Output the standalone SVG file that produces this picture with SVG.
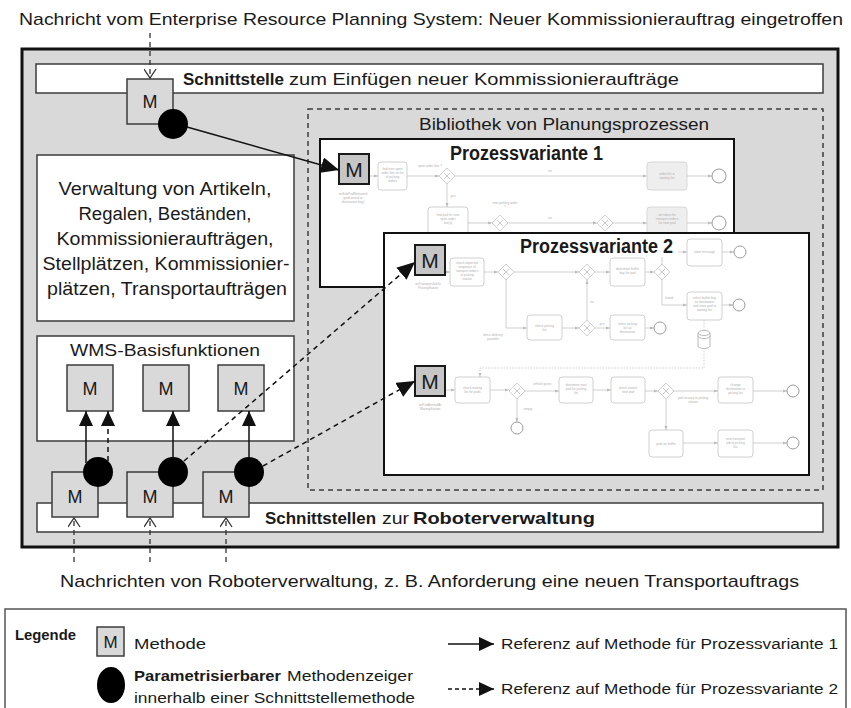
<svg xmlns="http://www.w3.org/2000/svg" width="851" height="708" viewBox="0 0 851 708">
  <style>
    .t { font-family: "Liberation Sans", Arial, sans-serif; fill: #1a1a1a; }
    .b { font-weight: bold; }
    .c { text-anchor: middle; }
    .box { fill: #ffffff; stroke: #3c3c3c; stroke-width: 1.5; }
    .m { fill: #d9d9d9; stroke: #3c3c3c; stroke-width: 1.5; }
    .pm { fill: #c6c6c6; stroke: #1a1a1a; stroke-width: 2; }
    .mt { font-family: "Liberation Sans", Arial, sans-serif; fill: #1a1a1a; font-size: 18px; text-anchor: middle; }
    .pmt { font-family: "Liberation Sans", Arial, sans-serif; fill: #1a1a1a; font-size: 21px; text-anchor: middle; }
    .ptr { fill: #000000; }
    .con { fill: none; stroke: #111111; stroke-width: 1.5; }
    .dash { stroke-dasharray: 5 4; }
    .msg { fill: none; stroke: #333333; stroke-width: 1.3; stroke-dasharray: 5 4; }
    .pv { fill: #ffffff; stroke: #111111; stroke-width: 2; }
    .fl { fill: none; stroke: #c4c4c4; stroke-width: 0.8; }
    .tk { fill: #ffffff; stroke: #c4c4c4; stroke-width: 0.8; }
    .tkg { fill: #eeeeee; stroke: #d0d0d0; stroke-width: 0.8; }
    .ft { font-family: "Liberation Sans", Arial, sans-serif; font-size: 3.2px; fill: #b0b0b0; text-anchor: middle; }
  </style>
  <defs>
    <marker id="headSolid" markerUnits="userSpaceOnUse" markerWidth="15" markerHeight="14" refX="15" refY="7" orient="auto">
      <path d="M0,0 L15,7 L0,14 z" fill="#111111"/>
    </marker>
    <marker id="headBig" markerUnits="userSpaceOnUse" markerWidth="18" markerHeight="16" refX="18" refY="8" orient="auto">
      <path d="M0,0 L18,8 L0,16 z" fill="#111111"/>
    </marker>
    <marker id="headOpen" markerUnits="userSpaceOnUse" markerWidth="12" markerHeight="13" refX="10" refY="6.5" orient="auto">
      <path d="M1,0.5 L10,6.5 L1,12.5" fill="none" stroke="#333333" stroke-width="1.3"/>
    </marker>
    <marker id="flow" markerUnits="userSpaceOnUse" markerWidth="4" markerHeight="4" refX="4" refY="2" orient="auto">
      <path d="M0,0.5 L4,2 L0,3.5 z" fill="#bdbdbd"/>
    </marker>
    <symbol id="gw" overflow="visible">
      <path d="M0,-8 L8,0 L0,8 L-8,0 z" fill="#ffffff" stroke="#c4c4c4" stroke-width="0.8"/>
      <path d="M-3,-3 L3,3 M3,-3 L-3,3" stroke="#bdbdbd" stroke-width="0.8"/>
    </symbol>
  </defs>

  <!-- incoming ERP message -->
  <text class="t" x="19" y="25" font-size="17" textLength="824" lengthAdjust="spacingAndGlyphs">Nachricht vom Enterprise Resource Planning System: Neuer Kommissionierauftrag eingetroffen</text>

  <!-- warehouse management system container -->
  <g id="wms-container">
    <rect x="22" y="49" width="816" height="498" fill="#d9d9d9" stroke="#111111" stroke-width="3"/>
  </g>

  <g id="order-interface">
    <rect class="box" x="36" y="64" width="787" height="29"/>
    <text class="t b" x="183" y="85" font-size="17" textLength="101" lengthAdjust="spacingAndGlyphs">Schnittstelle</text>
    <text class="t" x="289" y="85" font-size="17" textLength="390" lengthAdjust="spacingAndGlyphs">zum Einfügen neuer Kommissionieraufträge</text>
  </g>

  <g id="data-management">
    <rect class="box" x="37" y="155" width="257" height="166"/>
    <text class="t c" x="165" y="195" font-size="18" textLength="213" lengthAdjust="spacingAndGlyphs">Verwaltung von Artikeln,</text>
    <text class="t c" x="165" y="220" font-size="18" textLength="173" lengthAdjust="spacingAndGlyphs">Regalen, Beständen,</text>
    <text class="t c" x="165" y="245" font-size="18" textLength="217" lengthAdjust="spacingAndGlyphs">Kommissionieraufträgen,</text>
    <text class="t c" x="166" y="270" font-size="18" textLength="247" lengthAdjust="spacingAndGlyphs">Stellplätzen, Kommissionier-</text>
    <text class="t c" x="167" y="295" font-size="18" textLength="240" lengthAdjust="spacingAndGlyphs">plätzen, Transportaufträgen</text>
  </g>

  <g id="wms-base-functions">
    <rect class="box" x="37" y="336" width="257" height="105"/>
    <text class="t c" x="165" y="356" font-size="17" textLength="190" lengthAdjust="spacingAndGlyphs">WMS-Basisfunktionen</text>
    <g id="base-method-1"><rect class="m" x="67" y="365" width="46" height="46"/><text class="mt" x="90" y="395">M</text></g>
    <g id="base-method-2"><rect class="m" x="143" y="365" width="46" height="46"/><text class="mt" x="166" y="395">M</text></g>
    <g id="base-method-3"><rect class="m" x="218" y="365" width="46" height="46"/><text class="mt" x="241" y="395">M</text></g>
  </g>

  <g id="robot-interface">
    <rect class="box" x="37" y="503" width="786" height="29"/>
    <text class="t b" x="265" y="524" font-size="17" textLength="111" lengthAdjust="spacingAndGlyphs">Schnittstellen</text>
    <text class="t" x="382" y="524" font-size="17" textLength="27" lengthAdjust="spacingAndGlyphs">zur</text>
    <text class="t b" x="413" y="524" font-size="17" textLength="182" lengthAdjust="spacingAndGlyphs">Roboterverwaltung</text>
  </g>

  <!-- library of planning processes -->
  <g id="process-library">
    <rect x="308" y="109" width="515" height="381" fill="none" stroke="#3c3c3c" stroke-width="1.5" stroke-dasharray="5 4"/>
    <text class="t c" x="564" y="130" font-size="17" textLength="290" lengthAdjust="spacingAndGlyphs">Bibliothek von Planungsprozessen</text>
  </g>

  <!-- process variant 1 -->
  <g id="process-variant-1">
    <rect class="pv" x="320" y="139" width="414" height="148"/>
    <text class="t b" x="450" y="160" font-size="20" textLength="153" lengthAdjust="spacingAndGlyphs">Prozessvariante 1</text>
    <g id="pv1-flow">
      <text class="ft" x="353" y="195">onSubPodReleased</text>
      <text class="ft" x="353" y="199">(pod arrival at</text>
      <text class="ft" x="353" y="203">destination bay)</text>
      <path class="fl" d="M369,176 H378" marker-end="url(#flow)"/>
      <rect class="tk" x="378" y="162" width="29" height="28" rx="3"/>
      <text class="ft" x="392.5" y="170">find next open</text>
      <text class="ft" x="392.5" y="174">order line on list</text>
      <text class="ft" x="392.5" y="178">of picking</text>
      <text class="ft" x="392.5" y="182">orders</text>
      <path class="fl" d="M407,176 H439" marker-end="url(#flow)"/>
      <use href="#gw" x="447" y="176"/>
      <text class="ft" x="430" y="167">open order line ?</text>
      <path class="fl" d="M455,176 H647" marker-end="url(#flow)"/>
      <text class="ft" x="550" y="172">no</text>
      <rect class="tkg" x="647" y="162" width="40" height="28" rx="3"/>
      <text class="ft" x="667" y="175">order list is</text>
      <text class="ft" x="667" y="179">waiting list</text>
      <path class="fl" d="M687,176 H712" marker-end="url(#flow)"/>
      <circle cx="719" cy="176" r="7" fill="#ffffff" stroke="#9a9a9a" stroke-width="1"/>
      <path class="fl" d="M447,184 V207" marker-end="url(#flow)"/>
      <text class="ft" x="453" y="197">yes</text>
      <rect class="tk" x="428" y="207" width="40" height="33" rx="3"/>
      <text class="ft" x="448" y="216">find pod for next</text>
      <text class="ft" x="448" y="220">open order</text>
      <text class="ft" x="448" y="224">line(s)</text>
      <path class="fl" d="M468,223 H492" marker-end="url(#flow)"/>
      <use href="#gw" x="500" y="223"/>
      <text class="ft" x="505" y="204">new picking order</text>
      <text class="ft" x="505" y="208">?</text>
      <path class="fl" d="M508,223 H597" marker-end="url(#flow)"/>
      <text class="ft" x="550" y="219">no</text>
      <use href="#gw" x="605" y="223"/>
      <path class="fl" d="M613,223 H647" marker-end="url(#flow)"/>
      <rect class="tkg" x="647" y="207" width="40" height="33" rx="3"/>
      <text class="ft" x="667" y="216">set token for</text>
      <text class="ft" x="667" y="220">transport orders</text>
      <text class="ft" x="667" y="224">for next pod</text>
      <path class="fl" d="M687,223 H712" marker-end="url(#flow)"/>
      <circle cx="719" cy="223" r="7" fill="#ffffff" stroke="#9a9a9a" stroke-width="1"/>
    </g>
    <g id="pv1-method"><rect class="pm" x="339" y="154" width="30" height="30"/><text class="pmt" x="354" y="177">M</text></g>
  </g>

  <!-- process variant 2 -->
  <g id="process-variant-2">
    <rect class="pv" x="384" y="233" width="425" height="242"/>
    <text class="t b" x="520" y="253" font-size="20" textLength="153" lengthAdjust="spacingAndGlyphs">Prozessvariante 2</text>
    <g id="pv2-flow-upper">
      <text class="ft" x="428" y="285">onTransportJobTo</text>
      <text class="ft" x="428" y="289">PickingStation</text>
      <path class="fl" d="M445,272 H450" marker-end="url(#flow)"/>
      <rect class="tk" x="450" y="258" width="34" height="28" rx="3"/>
      <text class="ft" x="467" y="264">check expected</text>
      <text class="ft" x="467" y="268">sequence of</text>
      <text class="ft" x="467" y="272">transport orders</text>
      <text class="ft" x="467" y="276">at picking</text>
      <text class="ft" x="467" y="280">station</text>
      <path class="fl" d="M484,272 H498" marker-end="url(#flow)"/>
      <use href="#gw" x="506" y="272"/>
      <path class="fl" d="M514,272 H579" marker-end="url(#flow)"/>
      <use href="#gw" x="587" y="272"/>
      <path class="fl" d="M595,272 H610" marker-end="url(#flow)"/>
      <rect class="tk" x="610" y="258" width="35" height="28" rx="3"/>
      <text class="ft" x="627.5" y="270">determine buffer</text>
      <text class="ft" x="627.5" y="274">bay for pod</text>
      <path class="fl" d="M645,272 H654" marker-end="url(#flow)"/>
      <use href="#gw" x="662" y="272"/>
      <path class="fl" d="M662,264 V257"/>
      <path class="fl" d="M678,252 H687" marker-end="url(#flow)"/>
      <rect class="tk" x="687" y="239" width="35" height="27" rx="3"/>
      <text class="ft" x="704.5" y="253">store message</text>
      <path class="fl" d="M722,252 H734" marker-end="url(#flow)"/>
      <circle cx="740" cy="252" r="6" fill="#ffffff" stroke="#9a9a9a" stroke-width="1"/>
      <path class="fl" d="M662,280 V305 H687" marker-end="url(#flow)"/>
      <text class="ft" x="669" y="299">found</text>
      <rect class="tk" x="687" y="292" width="35" height="28" rx="3"/>
      <text class="ft" x="704.5" y="299">select buffer bay</text>
      <text class="ft" x="704.5" y="303">as destination</text>
      <text class="ft" x="704.5" y="307">and store pod in</text>
      <text class="ft" x="704.5" y="311">waiting list</text>
      <path class="fl" d="M722,305 H733" marker-end="url(#flow)"/>
      <circle cx="739" cy="305" r="6" fill="#ffffff" stroke="#9a9a9a" stroke-width="1"/>
      <path class="fl" d="M704,320 V331" stroke-dasharray="1.5 1.5"/>
      <path d="M698,333 V346 A6,2.5 0 0 0 710,346 V333 A6,2.5 0 0 0 698,333 A6,2.5 0 0 0 710,333 M698,336 A6,2.5 0 0 0 710,336" fill="#ffffff" stroke="#a8a8a8" stroke-width="0.8"/>
      <path class="fl" d="M506,280 V328 H527" marker-end="url(#flow)"/>
      <text class="ft" x="493" y="336">direct delivery</text>
      <text class="ft" x="493" y="340">possible</text>
      <rect class="tk" x="527" y="315" width="35" height="25" rx="3"/>
      <text class="ft" x="544.5" y="327">check picking</text>
      <text class="ft" x="544.5" y="331">list</text>
      <path class="fl" d="M562,328 H579" marker-end="url(#flow)"/>
      <use href="#gw" x="587" y="328"/>
      <path class="fl" d="M587,320 V280" marker-end="url(#flow)"/>
      <text class="ft" x="592" y="303">no</text>
      <path class="fl" d="M595,328 H610" marker-end="url(#flow)"/>
      <text class="ft" x="602" y="325">yes</text>
      <rect class="tk" x="610" y="315" width="35" height="25" rx="3"/>
      <text class="ft" x="627.5" y="325">select picking</text>
      <text class="ft" x="627.5" y="329">list as</text>
      <text class="ft" x="627.5" y="333">destination</text>
      <path class="fl" d="M645,328 H654" marker-end="url(#flow)"/>
      <circle cx="660" cy="328" r="6" fill="#ffffff" stroke="#9a9a9a" stroke-width="1"/>
    </g>
    <g id="pv2-flow-lower">
      <path class="fl" d="M704,348 V368 H480 V377" stroke-dasharray="1.5 1.5" marker-end="url(#flow)"/>
      <text class="ft" x="430" y="406">onPodArrivedAt</text>
      <text class="ft" x="430" y="410">WaitingStation</text>
      <path class="fl" d="M445,390 H455" marker-end="url(#flow)"/>
      <rect class="tk" x="455" y="377" width="35" height="26" rx="3"/>
      <text class="ft" x="472.5" y="389">check waiting</text>
      <text class="ft" x="472.5" y="393">list for pods</text>
      <path class="fl" d="M490,390 H509" marker-end="url(#flow)"/>
      <use href="#gw" x="517" y="391"/>
      <path class="fl" d="M517,399 V422" marker-end="url(#flow)"/>
      <text class="ft" x="528" y="410">empty</text>
      <circle cx="517" cy="428" r="6" fill="#ffffff" stroke="#9a9a9a" stroke-width="1"/>
      <path class="fl" d="M525,391 H559" marker-end="url(#flow)"/>
      <text class="ft" x="542" y="385">vehicle given</text>
      <rect class="tk" x="559" y="377" width="34" height="26" rx="3"/>
      <text class="ft" x="576" y="386">determine next</text>
      <text class="ft" x="576" y="390">pod for picking</text>
      <text class="ft" x="576" y="394">list</text>
      <path class="fl" d="M593,390 H611" marker-end="url(#flow)"/>
      <rect class="tk" x="611" y="377" width="34" height="26" rx="3"/>
      <text class="ft" x="628" y="389">check station</text>
      <text class="ft" x="628" y="393">next pod</text>
      <path class="fl" d="M645,391 H658" marker-end="url(#flow)"/>
      <use href="#gw" x="666" y="391"/>
      <path class="fl" d="M674,391 H718" marker-end="url(#flow)"/>
      <text class="ft" x="693" y="399">pod on way to picking</text>
      <text class="ft" x="693" y="403">station</text>
      <rect class="tk" x="718" y="377" width="35" height="26" rx="3"/>
      <text class="ft" x="735.5" y="386">change</text>
      <text class="ft" x="735.5" y="390">destination to</text>
      <text class="ft" x="735.5" y="394">picking list</text>
      <path class="fl" d="M753,391 H787" marker-end="url(#flow)"/>
      <circle cx="793" cy="391" r="6" fill="#ffffff" stroke="#9a9a9a" stroke-width="1"/>
      <path class="fl" d="M666,399 V430" marker-end="url(#flow)"/>
      <rect class="tk" x="649" y="430" width="34" height="27" rx="3"/>
      <text class="ft" x="666" y="445">park on buffer</text>
      <path class="fl" d="M683,443 H718" marker-end="url(#flow)"/>
      <rect class="tk" x="718" y="430" width="35" height="27" rx="3"/>
      <text class="ft" x="735.5" y="440">new transport</text>
      <text class="ft" x="735.5" y="444">job to picking</text>
      <text class="ft" x="735.5" y="448">list</text>
      <path class="fl" d="M753,443 H787" marker-end="url(#flow)"/>
      <circle cx="793" cy="443" r="6" fill="#ffffff" stroke="#9a9a9a" stroke-width="1"/>
    </g>
    <g id="pv2-method-1"><rect class="pm" x="415" y="245" width="30" height="30"/><text class="pmt" x="430" y="268">M</text></g>
    <g id="pv2-method-2"><rect class="pm" x="415" y="366" width="30" height="30"/><text class="pmt" x="430" y="389">M</text></g>
  </g>

  <!-- interface methods with parametrizable method pointers -->
  <g id="order-method">
    <rect class="m" x="127" y="79" width="46" height="45"/>
    <text class="mt" x="150" y="108">M</text>
  </g>
  <g id="robot-method-1">
    <rect class="m" x="52" y="472" width="46" height="45"/>
    <text class="mt" x="75" y="503">M</text>
  </g>
  <g id="robot-method-2">
    <rect class="m" x="127" y="472" width="46" height="45"/>
    <text class="mt" x="150" y="503">M</text>
  </g>
  <g id="robot-method-3">
    <rect class="m" x="203" y="472" width="46" height="45"/>
    <text class="mt" x="226" y="503">M</text>
  </g>

  <!-- connectors -->
  <g id="connectors">
    <path class="msg" d="M150,33 V78" marker-end="url(#headOpen)"/>
    <path class="msg" d="M74,562 V518" marker-end="url(#headOpen)"/>
    <path class="msg" d="M150,562 V518" marker-end="url(#headOpen)"/>
    <path class="msg" d="M226,562 V518" marker-end="url(#headOpen)"/>
    <path class="con" d="M187,127 L339,170" marker-end="url(#headBig)"/>
    <path class="con dash" d="M184,461 L415,262" marker-end="url(#headBig)"/>
    <path class="con dash" d="M263,466 L415,381" marker-end="url(#headBig)"/>
    <path class="con" d="M86,463 V411" marker-end="url(#headSolid)"/>
    <path class="con dash" d="M108,461 V411" marker-end="url(#headSolid)"/>
    <path class="con" d="M173,457 V411" marker-end="url(#headSolid)"/>
    <path class="con" d="M249,457 V411" marker-end="url(#headSolid)"/>
  </g>

  <!-- method pointers -->
  <g id="method-pointers">
    <circle class="ptr" cx="173" cy="124" r="15"/>
    <circle class="ptr" cx="98" cy="472" r="15"/>
    <circle class="ptr" cx="173" cy="472" r="15"/>
    <circle class="ptr" cx="249" cy="472" r="15"/>
  </g>

  <!-- incoming robot management messages -->
  <text class="t" x="60" y="587" font-size="17" textLength="739" lengthAdjust="spacingAndGlyphs">Nachrichten von Roboterverwaltung, z. B. Anforderung eine neuen Transportauftrags</text>

  <!-- legend -->
  <g id="legend">
    <rect x="5" y="609" width="841" height="112" fill="#ffffff" stroke="#555555" stroke-width="1.5"/>
    <text class="t b" x="15" y="640" font-size="15" textLength="61" lengthAdjust="spacingAndGlyphs">Legende</text>
    <rect class="m" x="97" y="627" width="27" height="29"/>
    <text class="t c" x="110.5" y="648" font-size="17">M</text>
    <text class="t" x="134" y="649" font-size="15.5" textLength="72" lengthAdjust="spacingAndGlyphs">Methode</text>
    <ellipse class="ptr" cx="111" cy="685" rx="14" ry="18"/>
    <text class="t b" x="134" y="681" font-size="15.5" textLength="147" lengthAdjust="spacingAndGlyphs">Parametrisierbarer</text>
    <text class="t" x="287" y="681" font-size="15.5" textLength="126" lengthAdjust="spacingAndGlyphs">Methodenzeiger</text>
    <text class="t" x="134" y="703" font-size="15.5" textLength="281" lengthAdjust="spacingAndGlyphs">innerhalb einer Schnittstellemethode</text>
    <path class="con" d="M448,644 H494" marker-end="url(#headSolid)"/>
    <text class="t" x="501" y="649" font-size="15.5" textLength="337" lengthAdjust="spacingAndGlyphs">Referenz auf Methode für Prozessvariante 1</text>
    <path class="con" d="M448,689 H494" stroke-dasharray="4 3" marker-end="url(#headSolid)"/>
    <text class="t" x="501" y="694" font-size="15.5" textLength="337" lengthAdjust="spacingAndGlyphs">Referenz auf Methode für Prozessvariante 2</text>
  </g>
</svg>
